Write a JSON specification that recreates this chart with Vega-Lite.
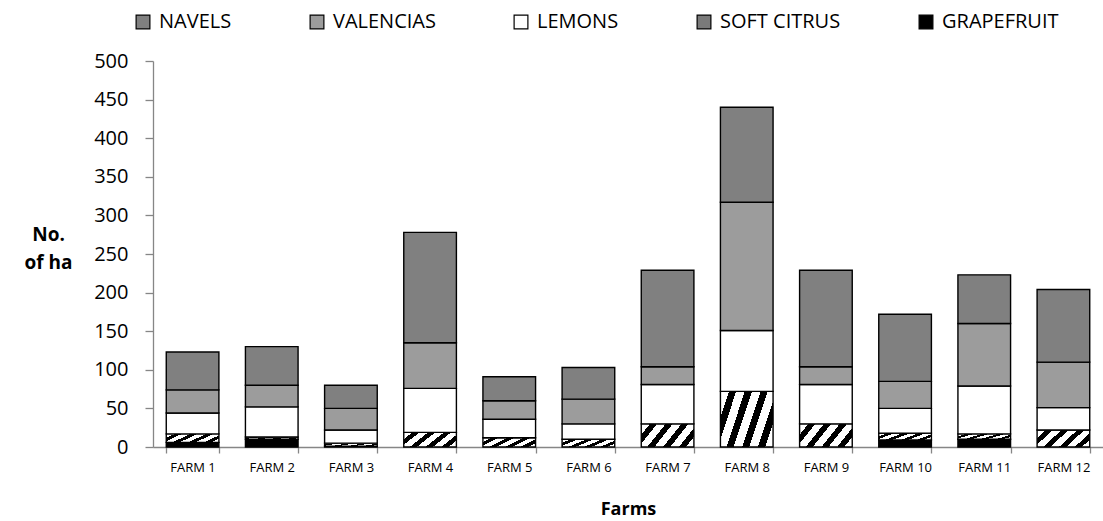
{
  "$schema": "https://vega.github.io/schema/vega-lite/v6.json",
  "autosize": {"type": "none"},
  "padding": {"left": 153, "top": 61, "right": 0, "bottom": 74},
  "width": 950,
  "height": 386,
  "background": "white",
  "config": {
    "view": {"stroke": null},
    "font": "Open Sans"
  },
  "datasets": {
    "crops": [
      {"crop": "GRAPEFRUIT", "rank": 1},
      {"crop": "SOFT CITRUS", "rank": 2},
      {"crop": "LEMONS", "rank": 3},
      {"crop": "VALENCIAS", "rank": 4},
      {"crop": "NAVELS", "rank": 5}
    ]
  },
  "data": {
    "values": [
      {"farm": "FARM 1", "crop": "GRAPEFRUIT", "ha": 6},
      {"farm": "FARM 1", "crop": "SOFT CITRUS", "ha": 11},
      {"farm": "FARM 1", "crop": "LEMONS", "ha": 27},
      {"farm": "FARM 1", "crop": "VALENCIAS", "ha": 30},
      {"farm": "FARM 1", "crop": "NAVELS", "ha": 49},
      {"farm": "FARM 2", "crop": "GRAPEFRUIT", "ha": 10},
      {"farm": "FARM 2", "crop": "SOFT CITRUS", "ha": 3},
      {"farm": "FARM 2", "crop": "LEMONS", "ha": 39},
      {"farm": "FARM 2", "crop": "VALENCIAS", "ha": 28},
      {"farm": "FARM 2", "crop": "NAVELS", "ha": 50},
      {"farm": "FARM 3", "crop": "GRAPEFRUIT", "ha": 1},
      {"farm": "FARM 3", "crop": "SOFT CITRUS", "ha": 4},
      {"farm": "FARM 3", "crop": "LEMONS", "ha": 17},
      {"farm": "FARM 3", "crop": "VALENCIAS", "ha": 28},
      {"farm": "FARM 3", "crop": "NAVELS", "ha": 30},
      {"farm": "FARM 4", "crop": "SOFT CITRUS", "ha": 19},
      {"farm": "FARM 4", "crop": "LEMONS", "ha": 57},
      {"farm": "FARM 4", "crop": "VALENCIAS", "ha": 59},
      {"farm": "FARM 4", "crop": "NAVELS", "ha": 143},
      {"farm": "FARM 5", "crop": "SOFT CITRUS", "ha": 12},
      {"farm": "FARM 5", "crop": "LEMONS", "ha": 24},
      {"farm": "FARM 5", "crop": "VALENCIAS", "ha": 24},
      {"farm": "FARM 5", "crop": "NAVELS", "ha": 31},
      {"farm": "FARM 6", "crop": "SOFT CITRUS", "ha": 10},
      {"farm": "FARM 6", "crop": "LEMONS", "ha": 20},
      {"farm": "FARM 6", "crop": "VALENCIAS", "ha": 32},
      {"farm": "FARM 6", "crop": "NAVELS", "ha": 41},
      {"farm": "FARM 7", "crop": "SOFT CITRUS", "ha": 30},
      {"farm": "FARM 7", "crop": "LEMONS", "ha": 51},
      {"farm": "FARM 7", "crop": "VALENCIAS", "ha": 23},
      {"farm": "FARM 7", "crop": "NAVELS", "ha": 125},
      {"farm": "FARM 8", "crop": "SOFT CITRUS", "ha": 72},
      {"farm": "FARM 8", "crop": "LEMONS", "ha": 79},
      {"farm": "FARM 8", "crop": "VALENCIAS", "ha": 166},
      {"farm": "FARM 8", "crop": "NAVELS", "ha": 123},
      {"farm": "FARM 9", "crop": "SOFT CITRUS", "ha": 30},
      {"farm": "FARM 9", "crop": "LEMONS", "ha": 51},
      {"farm": "FARM 9", "crop": "VALENCIAS", "ha": 23},
      {"farm": "FARM 9", "crop": "NAVELS", "ha": 125},
      {"farm": "FARM 10", "crop": "GRAPEFRUIT", "ha": 9},
      {"farm": "FARM 10", "crop": "SOFT CITRUS", "ha": 9},
      {"farm": "FARM 10", "crop": "LEMONS", "ha": 32},
      {"farm": "FARM 10", "crop": "VALENCIAS", "ha": 35},
      {"farm": "FARM 10", "crop": "NAVELS", "ha": 87},
      {"farm": "FARM 11", "crop": "GRAPEFRUIT", "ha": 10},
      {"farm": "FARM 11", "crop": "SOFT CITRUS", "ha": 7},
      {"farm": "FARM 11", "crop": "LEMONS", "ha": 62},
      {"farm": "FARM 11", "crop": "VALENCIAS", "ha": 81},
      {"farm": "FARM 11", "crop": "NAVELS", "ha": 63},
      {"farm": "FARM 12", "crop": "SOFT CITRUS", "ha": 22},
      {"farm": "FARM 12", "crop": "LEMONS", "ha": 29},
      {"farm": "FARM 12", "crop": "VALENCIAS", "ha": 59},
      {"farm": "FARM 12", "crop": "NAVELS", "ha": 94}
    ]
  },
  "transform": [
    {"lookup": "crop", "from": {"data": {"name": "crops"}, "key": "crop", "fields": ["rank"]}}
  ],
  "mark": {"type": "bar", "stroke": "black", "strokeWidth": 1.4},
  "encoding": {
    "x": {
      "field": "farm",
      "type": "nominal",
      "sort": ["FARM 1", "FARM 2", "FARM 3", "FARM 4", "FARM 5", "FARM 6", "FARM 7", "FARM 8", "FARM 9", "FARM 10", "FARM 11", "FARM 12"],
      "scale": {"paddingInner": 0.335, "paddingOuter": 0.1675},
      "axis": {
        "title": "Farms",
        "titleFont": "Open Sans",
        "titleFontSize": 18,
        "titleFontWeight": "bold",
        "titleColor": "#000000",
        "titleBaseline": "alphabetic",
        "titleY": 67,
        "labelAngle": 0,
        "labelFontSize": 13,
        "labelColor": "#000000",
        "labelPadding": 8,
        "tickBand": "extent",
        "tickSize": 6,
        "tickColor": "#868686",
        "domainColor": "#868686",
        "domainWidth": 1.3,
        "tickWidth": 1.3
      }
    },
    "y": {
      "field": "ha",
      "type": "quantitative",
      "stack": "zero",
      "scale": {"domain": [0, 500], "nice": false},
      "axis": {
        "title": ["No.", "of ha"],
        "titleAngle": 0,
        "titleAlign": "center",
        "titleBaseline": "alphabetic",
        "titleX": -105,
        "titleY": 179,
        "titleLineHeight": 28,
        "titleFontSize": 19,
        "titleFontWeight": "bold",
        "titleColor": "#000000",
        "values": [0, 50, 100, 150, 200, 250, 300, 350, 400, 450, 500],
        "labelFontSize": 20,
        "labelColor": "#000000",
        "labelPadding": 17,
        "tickSize": 8,
        "tickColor": "#868686",
        "domainColor": "#868686",
        "domainWidth": 1.3,
        "tickWidth": 1.3,
        "grid": false
      }
    },
    "color": {
      "condition": {
        "test": "datum.crop === 'SOFT CITRUS'",
        "value": {
          "gradient": "linear",
          "x1": 0, "y1": 0, "x2": 1.2, "y2": 0.42,
          "stops": [
            {"offset": 0, "color": "#ffffff"},
            {"offset": 0.122, "color": "#ffffff"},
            {"offset": 0.122, "color": "#000000"},
            {"offset": 0.222, "color": "#000000"},
            {"offset": 0.222, "color": "#ffffff"},
            {"offset": 0.344, "color": "#ffffff"},
            {"offset": 0.344, "color": "#000000"},
            {"offset": 0.444, "color": "#000000"},
            {"offset": 0.444, "color": "#ffffff"},
            {"offset": 0.567, "color": "#ffffff"},
            {"offset": 0.567, "color": "#000000"},
            {"offset": 0.667, "color": "#000000"},
            {"offset": 0.667, "color": "#ffffff"},
            {"offset": 0.789, "color": "#ffffff"},
            {"offset": 0.789, "color": "#000000"},
            {"offset": 0.889, "color": "#000000"},
            {"offset": 0.889, "color": "#ffffff"},
            {"offset": 1, "color": "#ffffff"}
          ]
        }
      },
      "field": "crop",
      "type": "nominal",
      "scale": {
        "domain": ["NAVELS", "VALENCIAS", "LEMONS", "SOFT CITRUS", "GRAPEFRUIT"],
        "range": ["#808080", "#9c9c9c", "#ffffff", "#7a7a7a", "#000000"]
      },
      "legend": {
        "title": null,
        "orient": "none",
        "direction": "horizontal",
        "legendX": -20,
        "legendY": -49,
        "symbolType": "square",
        "symbolSize": 190,
        "symbolStrokeColor": "#000000",
        "symbolStrokeWidth": 1.2,
        "symbolOpacity": 1,
        "labelFontSize": 20,
        "labelColor": "#000000",
        "labelOffset": 6,
        "columnPadding": 75,
        "encode": {
          "symbols": {
            "update": {
              "stroke": {"value": "#000000"},
              "strokeWidth": {"value": 1.2},
              "fill": [
                {"test": "datum.index === 0", "value": "#808080"},
                {"test": "datum.index === 1", "value": "#9c9c9c"},
                {"test": "datum.index === 2", "value": "#ffffff"},
                {
                  "test": "datum.index === 3",
                  "value": {
                    "gradient": "linear",
                    "x1": 0, "y1": 0, "x2": 1, "y2": 1,
                    "stops": [
                      {"offset": 0, "color": "#000000"},
                      {"offset": 0.4, "color": "#000000"},
                      {"offset": 0.4, "color": "#ffffff"},
                      {"offset": 0.6, "color": "#ffffff"},
                      {"offset": 0.6, "color": "#000000"},
                      {"offset": 1, "color": "#000000"}
                    ]
                  }
                },
                {"value": "#000000"}
              ]
            }
          }
        }
      }
    },
    "order": {"field": "rank", "type": "quantitative", "sort": "ascending"}
  }
}
